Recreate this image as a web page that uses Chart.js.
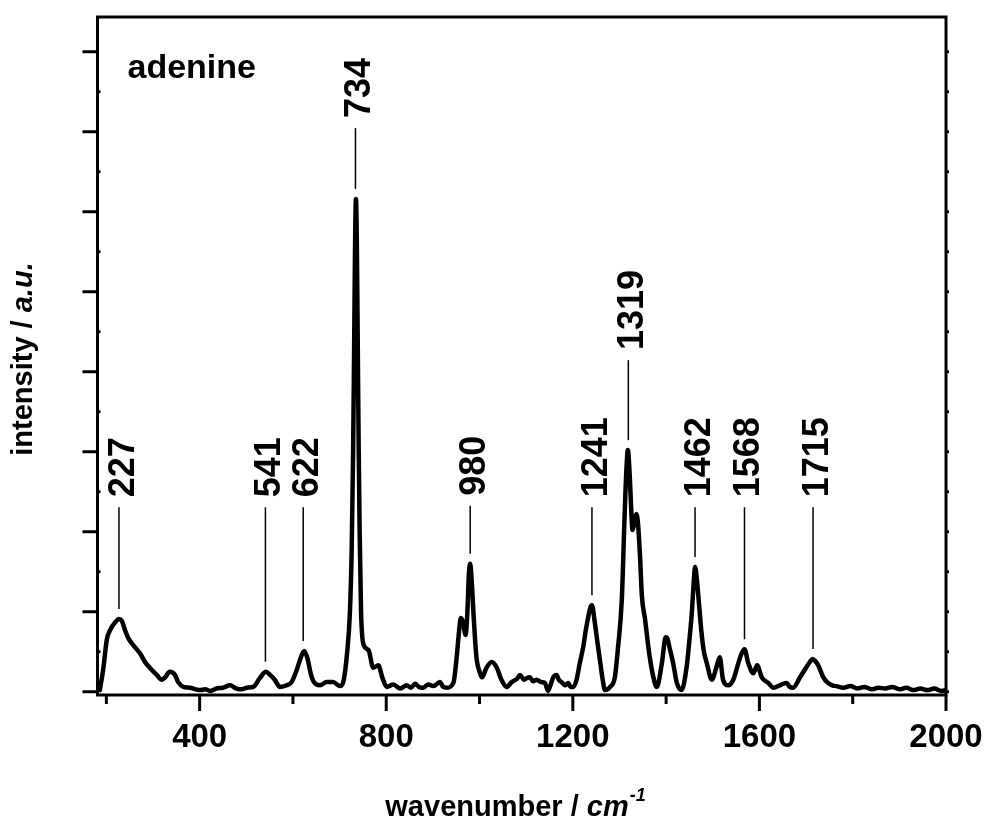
<!DOCTYPE html>
<html>
<head>
<meta charset="utf-8">
<title>adenine</title>
<script src="https://cdn.jsdelivr.net/npm/chart.js@4.4.0/dist/chart.umd.min.js"></script>
<style>
  html, body { margin: 0; padding: 0; background: #fff; }
  canvas { display: block; }
</style>
</head>
<body>
<canvas id="spectrum" width="989" height="821"></canvas>
<script>
// spectrum (wavenumber in cm-1, intensity in a.u.)
const wavenumbers = [
    186, 193, 201, 208, 218, 227, 233, 240, 247, 258, 272, 283, 293, 308, 319, 326, 336, 347, 354, 365,
    379, 392, 401, 412, 422, 436, 450, 465, 479, 490, 501, 515, 529, 542, 551, 561, 572, 587, 597, 608,
    617, 624, 631, 638, 645, 658, 672, 686, 701, 709, 716, 722, 726, 729, 731, 733, 735, 737, 739, 741,
    743, 746, 752, 762, 772, 783, 792, 801, 815, 830, 844, 853, 862, 870, 879, 890, 901, 915, 922, 930,
    944, 951, 956, 960, 965, 970, 974, 977, 980, 983, 987, 991, 994, 1000, 1005, 1015, 1026, 1037, 1047, 1058,
    1069, 1080, 1087, 1095, 1101, 1108, 1115, 1122, 1132, 1140, 1147, 1152, 1158, 1165, 1170, 1176, 1183, 1190, 1195, 1201,
    1208, 1215, 1222, 1229, 1238, 1241, 1247, 1252, 1258, 1264, 1269, 1280, 1290, 1297, 1305, 1311, 1315, 1318, 1322, 1325,
    1328, 1332, 1336, 1339, 1344, 1348, 1355, 1360, 1365, 1372, 1380, 1391, 1399, 1403, 1407, 1415, 1423, 1433, 1444, 1450,
    1455, 1459, 1462, 1466, 1469, 1476, 1481, 1487, 1498, 1508, 1515, 1522, 1533, 1544, 1555, 1562, 1568, 1576, 1587, 1595,
    1605, 1619, 1630, 1644, 1658, 1665, 1672, 1687, 1701, 1708, 1714, 1720, 1726, 1737, 1747, 1756, 1765, 1780, 1795, 1810,
    1825, 1840, 1855, 1870, 1885, 1900, 1915, 1930, 1945, 1960, 1975, 1990, 2000
];
const intensity = [
    0.02, 0.27, 0.65, 0.77, 0.86, 0.91, 0.89, 0.77, 0.67, 0.58, 0.48, 0.37, 0.30, 0.21, 0.15, 0.18, 0.25, 0.21, 0.12, 0.06,
    0.05, 0.03, 0.02, 0.03, 0.01, 0.04, 0.05, 0.08, 0.04, 0.03, 0.05, 0.06, 0.17, 0.25, 0.21, 0.15, 0.06, 0.08, 0.12, 0.27,
    0.43, 0.51, 0.42, 0.23, 0.12, 0.08, 0.12, 0.12, 0.07, 0.15, 0.48, 0.98, 1.8, 3.0, 4.2, 5.5, 6.16, 5.6, 4.3, 3.0,
    2.0, 1.0, 0.58, 0.52, 0.30, 0.33, 0.17, 0.06, 0.09, 0.04, 0.08, 0.05, 0.10, 0.06, 0.05, 0.09, 0.07, 0.12, 0.06, 0.05,
    0.11, 0.43, 0.75, 0.92, 0.86, 0.71, 1.0, 1.45, 1.60, 1.40, 0.98, 0.6, 0.40, 0.25, 0.18, 0.30, 0.37, 0.30, 0.15, 0.06,
    0.12, 0.16, 0.21, 0.15, 0.17, 0.18, 0.13, 0.15, 0.12, 0.11, 0.01, 0.08, 0.18, 0.21, 0.15, 0.12, 0.08, 0.11, 0.06, 0.06,
    0.15, 0.36, 0.55, 0.81, 1.06, 1.08, 0.87, 0.65, 0.40, 0.15, 0.02, 0.06, 0.18, 0.56, 1.15, 2.2, 2.8, 3.02, 2.7, 2.3,
    2.02, 2.12, 2.22, 2.15, 1.7, 1.2, 0.90, 0.65, 0.43, 0.20, 0.06, 0.36, 0.68, 0.66, 0.56, 0.36, 0.11, 0.02, 0.31, 0.65,
    0.98, 1.35, 1.56, 1.4, 1.2, 0.73, 0.50, 0.36, 0.15, 0.31, 0.43, 0.15, 0.08, 0.15, 0.36, 0.48, 0.53, 0.36, 0.23, 0.33,
    0.18, 0.11, 0.05, 0.08, 0.11, 0.06, 0.05, 0.18, 0.31, 0.37, 0.41, 0.38, 0.33, 0.18, 0.11, 0.08, 0.07, 0.05, 0.07, 0.04,
    0.06, 0.03, 0.05, 0.04, 0.06, 0.03, 0.05, 0.02, 0.04, 0.02, 0.04, 0.01, 0.02
];

// peak annotations and the height (in a.u.) where each label starts
const peakLabels = [227, 541, 622, 734, 980, 1241, 1319, 1462, 1568, 1715];
const peakLabelLevel = [2.43, 2.43, 2.43, 7.17, 2.45, 2.43, 4.27, 2.43, 2.43, 2.43];

const xTicks = [400, 800, 1200, 1600, 2000];
const xMinorTicks = [200, 600, 1000, 1400, 1800];
const yTicks = [0, 1, 2, 3, 4, 5, 6, 7, 8];
const yMinorTicks = [0.5, 1.5, 2.5, 3.5, 4.5, 5.5, 6.5, 7.5];
const sampleName = 'adenine';

const FONT = '"Liberation Sans", Arial, sans-serif';

function peakHeight(w) {
    let best = 0;
    wavenumbers.forEach((x, i) => {
        if (Math.abs(x - w) <= 6 && intensity[i] > best) best = intensity[i];
    });
    return best;
}

// frame, ticks, labels and peak markers
const decorations = {
    id: 'decorations',
    afterDraw(chart) {
        const { ctx, chartArea: a, scales: { x, y } } = chart;
        ctx.save();
        ctx.strokeStyle = '#000';
        ctx.fillStyle = '#000';

        // ticks
        ctx.lineWidth = 3;
        ctx.beginPath();
        yTicks.forEach(v => {
            const py = y.getPixelForValue(v);
            ctx.moveTo(a.left - 15, py); ctx.lineTo(a.left, py);
            ctx.moveTo(a.right, py); ctx.lineTo(a.right + 3, py);
        });
        yMinorTicks.forEach(v => {
            const py = y.getPixelForValue(v);
            ctx.moveTo(a.left, py); ctx.lineTo(a.left + 3, py);
            ctx.moveTo(a.right, py); ctx.lineTo(a.right + 3, py);
        });
        xTicks.forEach(v => {
            const px = x.getPixelForValue(v);
            ctx.moveTo(px, a.bottom); ctx.lineTo(px, a.bottom + 16);
        });
        xMinorTicks.forEach(v => {
            const px = x.getPixelForValue(v);
            ctx.moveTo(px, a.bottom); ctx.lineTo(px, a.bottom + 9);
        });
        ctx.stroke();

        // frame
        ctx.lineWidth = 3;
        ctx.strokeRect(a.left, a.top, a.right - a.left, a.bottom - a.top);

        // x tick labels
        ctx.font = 'bold 33px ' + FONT;
        ctx.textAlign = 'center';
        ctx.textBaseline = 'alphabetic';
        xTicks.forEach(v => {
            ctx.fillText(String(v), x.getPixelForValue(v), a.bottom + 52);
        });

        // x title: wavenumber / cm^-1
        const t1 = 'wavenumber / ', t2 = 'cm', t3 = '-1';
        const f1 = 'bold 29px ' + FONT, f2 = 'italic bold 29px ' + FONT, f3 = 'italic bold 18px ' + FONT;
        ctx.font = f1; const w1 = ctx.measureText(t1).width;
        ctx.font = f2; const w2 = ctx.measureText(t2).width;
        ctx.font = f3; const w3 = ctx.measureText(t3).width;
        let tx = 515 - (w1 + w2 + w3) / 2;
        const ty = 816;
        ctx.textAlign = 'left';
        ctx.font = f1; ctx.fillText(t1, tx, ty); tx += w1;
        ctx.font = f2; ctx.fillText(t2, tx, ty); tx += w2 + 1;
        ctx.font = f3; ctx.fillText(t3, tx, ty - 15);

        // y title: intensity / a.u.
        ctx.save();
        ctx.translate(32, (a.top + a.bottom) / 2 + 3);
        ctx.rotate(-Math.PI / 2);
        const y1 = 'intensity / ', y2 = 'a.u.';
        const g1 = 'bold 29px ' + FONT, g2 = 'italic bold 29px ' + FONT;
        ctx.font = g1; const wy1 = ctx.measureText(y1).width;
        ctx.font = g2; const wy2 = ctx.measureText(y2).width;
        let sx = -(wy1 + wy2) / 2;
        ctx.font = g1; ctx.fillText(y1, sx, 0); sx += wy1;
        ctx.font = g2; ctx.fillText(y2, sx, 0);
        ctx.restore();

        // sample name
        ctx.font = 'bold 34px ' + FONT;
        ctx.fillText(sampleName, a.left + 30, a.top + 61);

        // peak labels with leader lines
        peakLabels.forEach((w, i) => {
            const px = x.getPixelForValue(w);
            const labelY = y.getPixelForValue(peakLabelLevel[i]);
            const peakY = y.getPixelForValue(peakHeight(w));
            ctx.lineWidth = 1.5;
            ctx.beginPath();
            ctx.moveTo(px, labelY + 10);
            ctx.lineTo(px, peakY - 10);
            ctx.stroke();
            ctx.save();
            ctx.translate(px + 15, labelY);
            ctx.rotate(-Math.PI / 2);
            ctx.font = 'bold 36px ' + FONT;
            ctx.textAlign = 'left';
            ctx.fillText(String(w), 0, 0);
            ctx.restore();
        });

        ctx.restore();
    }
};

const ctx = document.getElementById('spectrum').getContext('2d');

new Chart(ctx, {
    type: 'line',
    data: {
        datasets: [{
            label: sampleName,
            data: wavenumbers.map((w, i) => ({ x: w, y: intensity[i] })),
            borderColor: '#000',
            borderWidth: 4.5,
            borderJoinStyle: 'round',
            borderCapStyle: 'round',
            pointRadius: 0,
            cubicInterpolationMode: 'monotone',
            fill: false
        }]
    },
    options: {
        responsive: false,
        animation: false,
        devicePixelRatio: 1,
        layout: {
            padding: { left: 97.5, right: 43, top: 17, bottom: 126 }
        },
        plugins: {
            legend: { display: false },
            tooltip: { enabled: false }
        },
        scales: {
            x: { type: 'linear', min: 181, max: 2000, display: false },
            y: { type: 'linear', min: -0.041, max: 8.434, display: false }
        }
    },
    plugins: [decorations]
});
</script>
</body>
</html>
